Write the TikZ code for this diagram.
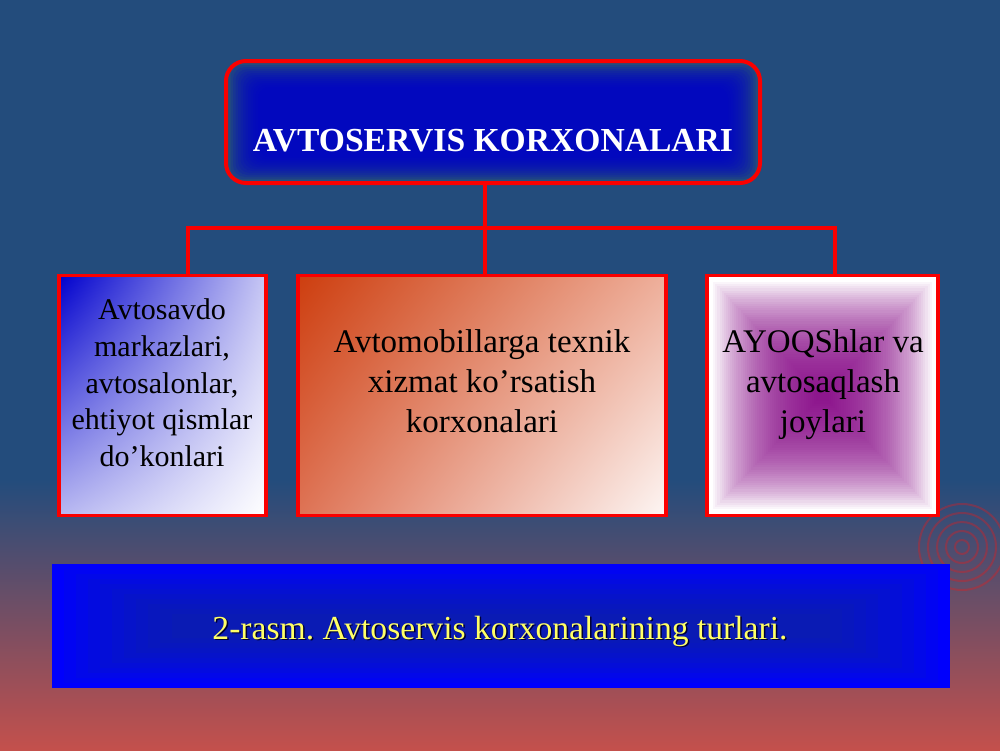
\documentclass[tikz,border=0pt]{standalone}
\usepackage{fontspec}
\setmainfont{Liberation Serif}
\frenchspacing
\usetikzlibrary{calc,positioning,shadings}
\pgfdeclarelayer{bg}
\pgfsetlayers{bg,main}
\definecolor{bgblue}{HTML}{234C7C}
\definecolor{bgred}{HTML}{C4504C}
\definecolor{boxred}{RGB}{250,0,0}
\definecolor{titleglow}{RGB}{0,0,205}
\definecolor{capblue}{RGB}{0,0,252}
\definecolor{capglow}{RGB}{25,55,130}
\definecolor{capyellow}{RGB}{255,255,102}
\definecolor{lblue}{RGB}{0,0,205}
\definecolor{morange}{RGB}{205,62,15}
\definecolor{mpink}{RGB}{238,175,155}
\definecolor{mcoral}{RGB}{222,115,85}
\definecolor{mwhite}{RGB}{253,246,244}
\definecolor{rpurple}{RGB}{135,0,135}
\tikzset{
  frame/.style={draw=boxred, line width=3.5pt, inner sep=0pt},
  link/.style={draw=boxred, line width=4pt},
  boxtext/.style={align=center, inner sep=0pt, text=black},
  ripple/.style={draw=red!70!bgred, line width=2pt, opacity=0.35},
}

\begin{document}
\begin{tikzpicture}[x=1pt,y=-1pt]
\useasboundingbox (0,0) rectangle (1000,750);
\begin{pgfonlayer}{bg}
\fill[bgblue] (0,0) rectangle (1000,481);
\shade[top color=bgblue, bottom color=bgred] (0,480) rectangle (1000,750);
% ripples
\foreach \r in {7,16,...,43}
  \draw[ripple] (962,547) circle (\r pt);
\end{pgfonlayer}

% top box
\node[frame, line width=4pt, minimum width=534pt, minimum height=122pt, rounded corners=20pt] (title) at (493,122) {};
\node[font=\fontsize{33.6}{40}\selectfont\bfseries, text=white, anchor=base, inner sep=0pt] (titlelbl) at (493,151) {AVTOSERVIS KORXONALARI};
\begin{pgfonlayer}{bg}
\foreach \k in {1,...,12}
  \fill[titleglow, opacity=0.15, rounded corners=12pt] ($(title.north west)+(4+2.5*\k,4+2*\k)$) rectangle ($(title.south east)-(4+2.5*\k,4+2*\k)$);
\end{pgfonlayer}

% three boxes
\node[frame, minimum width=207pt, minimum height=240pt, upper left=lblue, upper right=lblue!22!white, lower left=lblue!28!white, lower right=white] (lbox) at (162.5,395.5) {};
\node[frame, minimum width=368pt, minimum height=240pt, upper left=morange, upper right=mpink, lower left=mcoral, lower right=mwhite] (mbox) at (482,395.5) {};
\node[frame, minimum width=231pt, minimum height=240pt] (rbox) at (822.5,395.5) {};
\begin{pgfonlayer}{bg}
\fill[white] (rbox.north west) rectangle (rbox.south east);
\foreach \k in {0,...,49}
  \fill[rpurple, opacity=0.04] ($(rbox.north west)+(8+2.1*\k,8+2.2*\k)$) rectangle ($(rbox.south east)-(8+2.1*\k,8+2.2*\k)$);
\end{pgfonlayer}

\node[boxtext, font=\fontsize{30}{36.7}\selectfont] (ltext) at (162,383) {Avtosavdo\\markazlari,\\avtosalonlar,\\ehtiyot qismlar\\do’konlari};
\node[boxtext, font=\fontsize{33}{40}\selectfont] (mtext) at (482,381) {Avtomobillarga texnik\\xizmat ko’rsatish\\korxonalari};
\node[boxtext, font=\fontsize{33}{40}\selectfont] (rtext) at (823,384.5) {AYOQShlar va\\avtosaqlash\\joylari};

% connectors
\coordinate (bus) at (484.5,228);
\coordinate (lbus) at (188,228);
\coordinate (rbus) at (835,228);
\draw[link] (title.south -| bus) -- (bus |- mbox.north);
\draw[link] (lbus |- lbox.north) -- (lbus) -- (rbus) -- (rbus |- rbox.north);

% caption
\node[inner sep=0pt, minimum width=898pt, minimum height=124pt] (cap) at (501,626) {};
\begin{pgfonlayer}{bg}
\fill[capblue] (cap.north west) rectangle (cap.south east);
\foreach \k in {1,...,10}
  \fill[capglow, opacity=0.08] ($(cap.north west)+(12*\k,5*\k)$) rectangle ($(cap.south east)-(12*\k,5*\k)$);
\end{pgfonlayer}
\node[font=\fontsize{33.6}{40}\selectfont, text=black!80!capblue, anchor=base, inner sep=0pt] (capshade) at (501.5,640.5) {2-rasm. Avtoservis korxonalarining turlari.};
\node[font=\fontsize{33.6}{40}\selectfont, text=capyellow, anchor=base, inner sep=0pt] (caplbl) at (500,639) {2-rasm. Avtoservis korxonalarining turlari.};
\end{tikzpicture}
\end{document}
